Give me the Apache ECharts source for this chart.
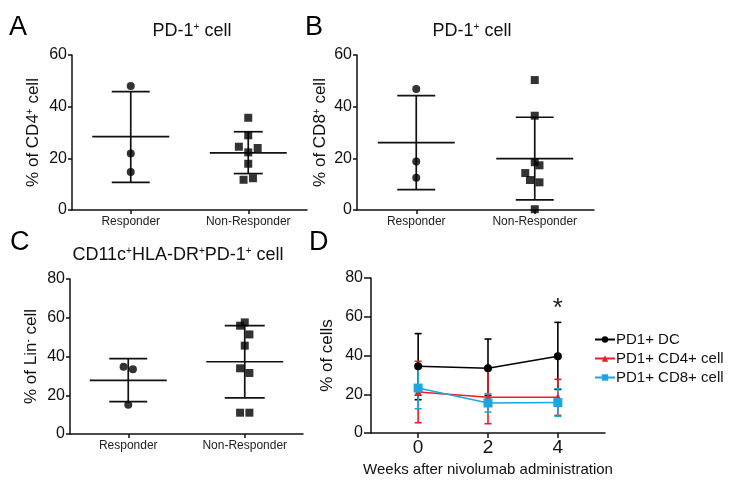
<!DOCTYPE html>
<html>
<head>
<meta charset="utf-8">
<script src="https://cdn.jsdelivr.net/npm/echarts@6/dist/echarts.min.js"></script>
<style>
html, body { margin: 0; padding: 0; background: #fff; }
#chart { width: 734px; height: 487px; }
</style>
</head>
<body>
<div id="chart"></div>
<script>
// groups on the scatter panels (value axis 0..4, groups sit at 1 and 3)
var groupNames = ['Responder', 'Non-Responder'];
var groupPos = [1, 3];

// A: PD-1+ cell, % of CD4+ cell
var aRespX = [1, 1, 1];
var aRespY = [48.0, 21.9, 14.7];
var aNonX = [3, 3, 2.84, 3.16, 3, 3, 2.92, 3.08];
var aNonY = [35.7, 28.9, 24.5, 24.0, 22.3, 17.9, 11.7, 12.3];
var aMean = [28.4, 22.1];
var aLow = [10.7, 14.1];
var aHigh = [45.8, 30.3];

// B: PD-1+ cell, % of CD8+ cell
var bRespX = [1, 1, 1];
var bRespY = [46.8, 18.8, 12.5];
var bNonX = [3, 3, 3, 3.08, 2.84, 2.92, 3.08, 3];
var bNonY = [50.3, 36.5, 18.5, 17.3, 14.3, 11.6, 10.7, 0.3];
var bMean = [26.1, 19.9];
var bLow = [7.9, 3.9];
var bHigh = [44.3, 35.9];

// C: CD11c+HLA-DR+PD-1+ cell, % of Lin- cell
var cRespX = [0.92, 1.08, 1];
var cRespY = [34.7, 33.4, 15.1];
var cNonX = [3, 2.92, 3.08, 3, 2.92, 3.08, 2.92, 3.08];
var cNonY = [57.6, 55.9, 51.4, 45.6, 33.9, 31.5, 11.0, 11.0];
var cMean = [27.7, 37.3];
var cLow = [16.7, 18.6];
var cHigh = [38.9, 55.9];

// D: weeks after nivolumab
var weeks = [0, 2, 4];
var dcMean = [34.4, 33.4, 39.6];
var dcLow = [17.2, 19.4, 22.5];
var dcHigh = [51.3, 48.5, 57.1];
var cd4Mean = [21.2, 18.5, 18.4];
var cd4Low = [5.3, 4.8, 9.1];
var cd4High = [37.0, 32.8, 27.7];
var cd8Mean = [23.2, 15.5, 15.7];
var cd8Low = [12.5, 10.8, 8.6];
var cd8High = [33.8, 20.3, 22.9];

var FONT = 'Liberation Sans, Arial, sans-serif';
var INK = '#111';

var chart = echarts.init(document.getElementById('chart'));

function pts(xs, ys) {
    return xs.map(function (x, i) { return [x, ys[i]]; });
}

function stats(mean, low, high) {
    return groupPos.map(function (p, i) { return [p, mean[i], low[i], high[i]]; });
}

function bars(xs, low, high) {
    return xs.map(function (x, i) { return [x, low[i], high[i]]; });
}

// mean line + SD whiskers
function meanSd(caps) {
    return function (params, api) {
        var c = api.coord([api.value(0), api.value(1)]);
        var lo = api.coord([api.value(0), api.value(2)]);
        var hi = api.coord([api.value(0), api.value(3)]);
        var h = caps[params.dataIndex];
        var st = { stroke: INK, lineWidth: 1.7 };
        return {
            type: 'group',
            children: [
                { type: 'line', shape: { x1: c[0] - 38.5, y1: c[1], x2: c[0] + 38.5, y2: c[1] }, style: st },
                { type: 'line', shape: { x1: lo[0], y1: lo[1], x2: hi[0], y2: hi[1] }, style: st },
                { type: 'line', shape: { x1: lo[0] - h, y1: lo[1], x2: lo[0] + h, y2: lo[1] }, style: st },
                { type: 'line', shape: { x1: hi[0] - h, y1: hi[1], x2: hi[0] + h, y2: hi[1] }, style: st }
            ]
        };
    };
}

function errBar(color) {
    return function (params, api) {
        var lo = api.coord([api.value(0), api.value(1)]);
        var hi = api.coord([api.value(0), api.value(2)]);
        var st = { stroke: color, lineWidth: 1.6 };
        return {
            type: 'group',
            children: [
                { type: 'line', shape: { x1: lo[0], y1: lo[1], x2: hi[0], y2: hi[1] }, style: st },
                { type: 'line', shape: { x1: lo[0] - 3.5, y1: lo[1], x2: lo[0] + 3.5, y2: lo[1] }, style: st },
                { type: 'line', shape: { x1: hi[0] - 3.5, y1: hi[1], x2: hi[0] + 3.5, y2: hi[1] }, style: st }
            ]
        };
    };
}

var supRich = { s: { fontSize: 10, verticalAlign: 'top', lineHeight: 12, fontFamily: FONT, color: INK } };

function groupAxis(idx) {
    return {
        type: 'value', gridIndex: idx, min: 0, max: 4,
        splitLine: { show: false },
        axisLine: { onZero: false, lineStyle: { color: INK, width: 1.5 } },
        axisTick: { customValues: groupPos, length: 4, lineStyle: { color: INK, width: 1.5 } },
        axisLabel: {
            customValues: groupPos, margin: 6, fontSize: 12, color: '#222', fontFamily: FONT,
            formatter: function (v) { return groupNames[groupPos.indexOf(v)]; }
        }
    };
}

function pctAxis(idx, max, name, gap, tickLen) {
    return {
        type: 'value', gridIndex: idx, min: 0, max: max, interval: 20,
        name: name, nameLocation: 'middle', nameGap: gap,
        nameTextStyle: { fontSize: 17, color: INK, fontFamily: FONT, rich: supRich },
        splitLine: { show: false },
        axisLine: { show: true, onZero: false, lineStyle: { color: INK, width: 1.5 } },
        axisTick: { show: true, length: tickLen, lineStyle: { color: INK, width: 1.5 } },
        axisLabel: { fontSize: 16, color: INK, fontFamily: FONT, margin: tickLen + 1 }
    };
}

function dotSeries(idx, data, symbol) {
    return {
        type: 'scatter', xAxisIndex: idx, yAxisIndex: idx, data: data,
        symbol: symbol, symbolSize: 8, itemStyle: { color: '#000' }, z: 5, silent: true
    };
}

function statSeries(idx, data, caps) {
    return {
        type: 'custom', xAxisIndex: idx, yAxisIndex: idx, data: data,
        renderItem: meanSd(caps), z: 3, silent: true
    };
}

var titleStyle = { fontSize: 18, fontWeight: 'normal', color: INK, fontFamily: FONT, rich: supRich };

var option = {
    animation: false,
    textStyle: { fontFamily: FONT },
    title: [
        { text: 'PD-1{s|+} cell', left: 192, top: 22, textAlign: 'center', padding: 0, textStyle: titleStyle },
        { text: 'PD-1{s|+} cell', left: 472, top: 22, textAlign: 'center', padding: 0, textStyle: titleStyle },
        { text: 'CD11c{s|+}HLA-DR{s|+}PD-1{s|+} cell', left: 178, top: 246, textAlign: 'center', padding: 0, textStyle: titleStyle }
    ],
    graphic: [
        { type: 'text', left: 9, top: 14, style: { text: 'A', fontSize: 27, fill: '#000', fontFamily: FONT } },
        { type: 'text', left: 305, top: 14, style: { text: 'B', fontSize: 27, fill: '#000', fontFamily: FONT } },
        { type: 'text', left: 10, top: 229, style: { text: 'C', fontSize: 27, fill: '#000', fontFamily: FONT } },
        { type: 'text', left: 309, top: 229, style: { text: 'D', fontSize: 27, fill: '#000', fontFamily: FONT } }
    ],
    grid: [
        { left: 72, top: 55, width: 235, height: 155 },
        { left: 357, top: 55, width: 237, height: 155 },
        { left: 70, top: 279, width: 233, height: 155 },
        { left: 371, top: 278, width: 234, height: 155 }
    ],
    legend: {
        orient: 'vertical', left: 589, top: 327, itemWidth: 20, itemHeight: 8, itemGap: 4,
        textStyle: { fontSize: 15, color: INK, fontFamily: FONT, padding: [0, 0, 0, -4] },
        data: ['PD1+ DC', 'PD1+ CD4+ cell', 'PD1+ CD8+ cell']
    },
    xAxis: [
        groupAxis(0),
        groupAxis(1),
        groupAxis(2),
        {
            type: 'value', gridIndex: 3, min: -1.35, max: 5.35,
            name: 'Weeks after nivolumab administration', nameLocation: 'middle', nameGap: 29,
            nameTextStyle: { fontSize: 15, color: INK, fontFamily: FONT },
            splitLine: { show: false },
            axisLine: { onZero: false, lineStyle: { color: INK, width: 1.5 } },
            axisTick: { customValues: weeks, length: 5, lineStyle: { color: INK, width: 1.5 } },
            axisLabel: { customValues: weeks, fontSize: 19, color: INK, fontFamily: FONT, margin: 5 }
        }
    ],
    yAxis: [
        pctAxis(0, 60, '% of CD4{s|+} cell', 30, 4),
        pctAxis(1, 60, '% of CD8{s|+} cell', 28, 4),
        pctAxis(2, 80, '% of Lin{s|-} cell', 30, 4),
        pctAxis(3, 80, '% of cells', 35, 7)
    ],
    series: [
        statSeries(0, stats(aMean, aLow, aHigh), [19, 14.5]),
        dotSeries(0, pts(aRespX, aRespY), 'circle'),
        dotSeries(0, pts(aNonX, aNonY), 'rect'),
        statSeries(1, stats(bMean, bLow, bHigh), [19, 19]),
        dotSeries(1, pts(bRespX, bRespY), 'circle'),
        dotSeries(1, pts(bNonX, bNonY), 'rect'),
        statSeries(2, stats(cMean, cLow, cHigh), [19, 20]),
        dotSeries(2, pts(cRespX, cRespY), 'circle'),
        dotSeries(2, pts(cNonX, cNonY), 'rect'),
        {
            type: 'custom', name: 'dcErr', xAxisIndex: 3, yAxisIndex: 3,
            data: bars(weeks, dcLow, dcHigh), renderItem: errBar('#000'), z: 2, silent: true
        },
        {
            type: 'custom', name: 'cd4Err', xAxisIndex: 3, yAxisIndex: 3,
            data: bars(weeks, cd4Low, cd4High), renderItem: errBar('#ee1c25'), z: 2, silent: true
        },
        {
            type: 'custom', name: 'cd8Err', xAxisIndex: 3, yAxisIndex: 3,
            data: bars(weeks, cd8Low, cd8High), renderItem: errBar('#1aa7e0'), z: 2, silent: true
        },
        {
            type: 'line', name: 'PD1+ DC', xAxisIndex: 3, yAxisIndex: 3,
            data: pts(weeks, dcMean), symbol: 'circle', symbolSize: 8,
            lineStyle: { color: '#000', width: 1.5 }, itemStyle: { color: '#000' }, z: 4,
            markPoint: {
                symbol: 'circle', symbolSize: 0, silent: true,
                label: { show: true, position: 'inside', formatter: '*', fontSize: 26, color: '#222', fontFamily: FONT },
                data: [{ coord: [4, 64] }]
            }
        },
        {
            type: 'line', name: 'PD1+ CD4+ cell', xAxisIndex: 3, yAxisIndex: 3,
            data: pts(weeks, cd4Mean), symbol: 'triangle', symbolSize: 8,
            lineStyle: { color: '#ee1c25', width: 1.5 }, itemStyle: { color: '#ee1c25' }, z: 4
        },
        {
            type: 'line', name: 'PD1+ CD8+ cell', xAxisIndex: 3, yAxisIndex: 3,
            data: pts(weeks, cd8Mean), symbol: 'rect', symbolSize: 9,
            lineStyle: { color: '#1aa7e0', width: 1.5 }, itemStyle: { color: '#1aa7e0' }, z: 4
        }
    ]
};

chart.setOption(option);
</script>
</body>
</html>
